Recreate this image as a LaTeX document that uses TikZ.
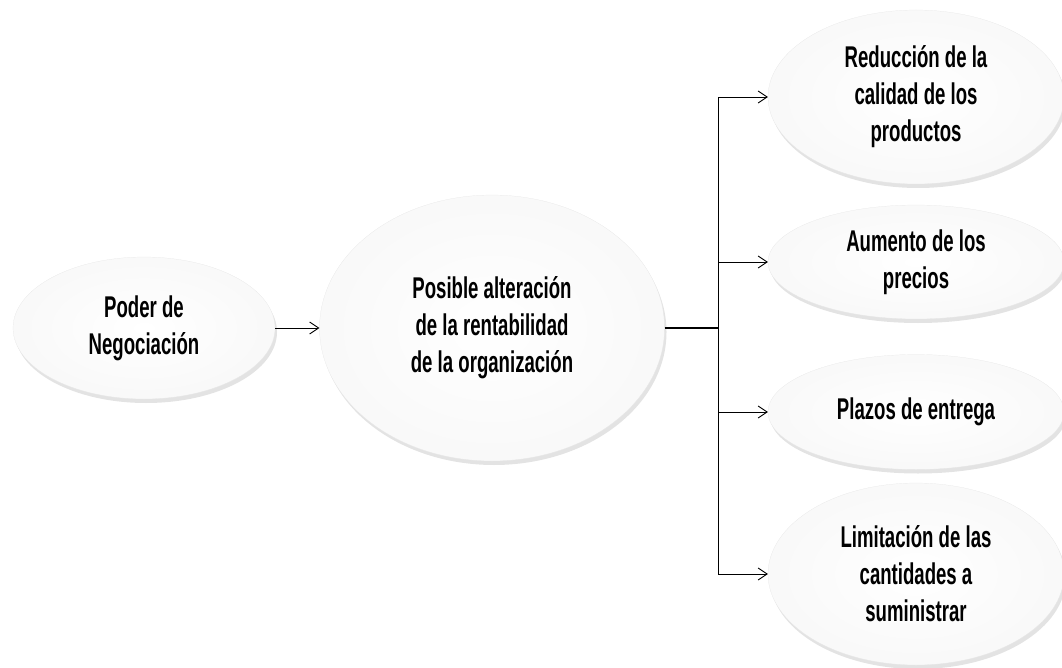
\documentclass[tikz,border=0pt]{standalone}
\usepackage{fontspec}
\setmainfont[FakeStretch=0.62]{Liberation Sans}
\usetikzlibrary{positioning, shapes.geometric, shadows, arrows.meta}

\tikzset{
  globo/.style={ellipse, inner sep=0pt, draw=gray!20, very thin,
    inner color=white, outer color=gray!5,
    drop shadow={opacity=0.22, shadow xshift=2pt, shadow yshift=-4pt},
    align=center, font=\fontsize{30}{37}\selectfont\bfseries},
  flecha/.style={-{Straight Barb[length=9pt,width=12pt]}, line width=0.9pt}
}

\begin{document}
\begin{tikzpicture}[x=1pt, y=-1pt]
  \useasboundingbox (0,0) rectangle (1062,668);
  % nodos
  \node [globo, minimum width=262, minimum height=142] (poder) at (144,328) {Poder de\\Negociaci\'on};
  \node [globo, minimum width=345, minimum height=266] (alter) at (492,328) {Posible alteraci\'on\\de la rentabilidad\\de la organizaci\'on};
  \node [globo, minimum width=296, minimum height=174] (calidad) at (916,97) {Reducci\'on de la\\calidad de los\\productos};
  \node [globo, minimum width=296, minimum height=114] (precios) at (916,262) {Aumento de los\\precios};
  \node [globo, minimum width=296, minimum height=115] (plazos) at (916,412) {Plazos de entrega};
  \node [globo, minimum width=296, minimum height=182] (cantidad) at (916,574) {Limitaci\'on de las\\cantidades a\\suministrar};
  \coordinate (rama) at (718,328);

  % conexiones
  \draw [flecha] (poder) -- (alter);
  \draw [line width=2pt] (alter) -- (rama);
  \path [flecha]
    (rama) edge [to path={|- (\tikztotarget)}] (calidad.west)
    (rama) edge [to path={|- (\tikztotarget)}] (precios.west)
    (rama) edge [to path={|- (\tikztotarget)}] (plazos.west)
    (rama) edge [to path={|- (\tikztotarget)}] (cantidad.west);
\end{tikzpicture}
\end{document}
